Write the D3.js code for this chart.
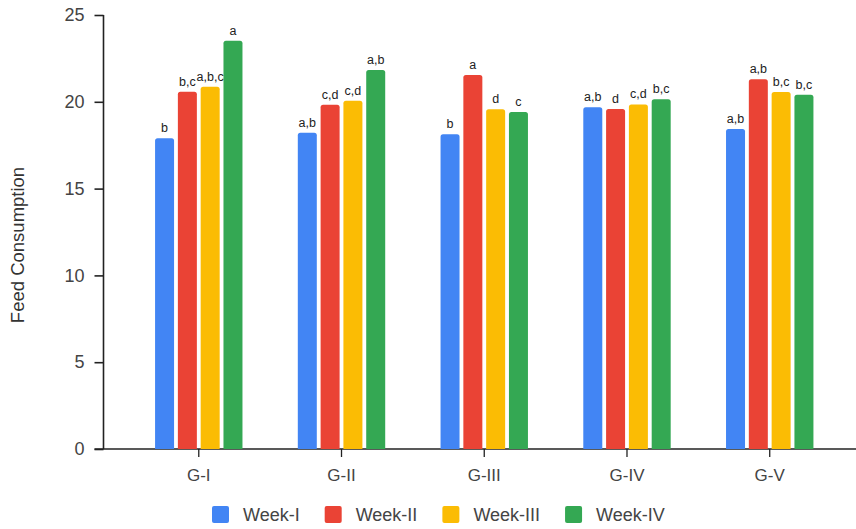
<!DOCTYPE html>
<html>
<head>
<meta charset="utf-8">
<script src="https://cdn.jsdelivr.net/npm/d3@7"></script>
<style>
  html, body { margin: 0; padding: 0; background: #fff; }
  svg { display: block; font-family: "Liberation Sans", Arial, sans-serif; }
</style>
</head>
<body>
<svg id="chart" width="856" height="529"></svg>
<script>
// ---- data ----
const groups = ["G-I", "G-II", "G-III", "G-IV", "G-V"];
const series = ["Week-I", "Week-II", "Week-III", "Week-IV"];
const weekI   = [17.9, 18.22, 18.13, 19.68, 18.43];
const weekII  = [20.58, 19.83, 21.54, 19.59, 21.3];
const weekIII = [20.87, 20.06, 19.57, 19.85, 20.56];
const weekIV  = [23.52, 21.83, 19.41, 20.14, 20.41];
const lettersI   = ["b", "a,b", "b", "a,b", "a,b"];
const lettersII  = ["b,c", "c,d", "a", "d", "a,b"];
const lettersIII = ["a,b,c", "c,d", "d", "c,d", "b,c"];
const lettersIV  = ["a", "a,b", "c", "b,c", "b,c"];
const yTicks = [0, 5, 10, 15, 20, 25];
const colors = ["#4285F4", "#EA4335", "#FBBC04", "#34A853"];

const values = [weekI, weekII, weekIII, weekIV];
const letters = [lettersI, lettersII, lettersIII, lettersIV];

const svg = d3.select("#chart");
const axisX = 103.5, zeroY = 449, topY = 15;

const y = d3.scaleLinear().domain([0, 25]).range([zeroY, topY]);
const x0 = d3.scaleBand().domain(groups).range([127.4, 841.1]).paddingInner(0).paddingOuter(0);
const x1 = d3.scaleBand().domain(series).range([-43.7, 43.7]).paddingInner(0.167).paddingOuter(0);

// y axis
const yAxis = svg.append("g").attr("transform", `translate(${axisX},0)`)
  .call(d3.axisLeft(y).tickValues(yTicks).tickSize(9).tickPadding(10).tickFormat(d3.format("d")));
yAxis.select(".domain").attr("stroke", "#222").attr("stroke-width", 1.6).attr("d", `M0,${zeroY}V${topY}`);
yAxis.selectAll(".tick line").attr("stroke", "#222").attr("stroke-width", 1.6);
yAxis.selectAll(".tick text").attr("fill", "#444").style("font-size", "18px");
yAxis.attr("font-family", null);

// x axis
const xAxis = svg.append("g").attr("transform", `translate(0,${zeroY})`)
  .call(d3.axisBottom(x0).tickSize(8).tickPadding(12));
xAxis.attr("font-family", null);
xAxis.select(".domain").attr("d", `M94.5,0H856`).attr("stroke", "#222").attr("stroke-width", 1.6);
xAxis.selectAll(".tick line").attr("stroke", "#222").attr("stroke-width", 1.3);
xAxis.selectAll(".tick text").attr("fill", "#444").style("font-size", "17px");

// y label
svg.append("text")
  .attr("transform", `translate(24,245) rotate(-90)`)
  .attr("text-anchor", "middle")
  .attr("fill", "#333")
  .style("font-size", "18.5px")
  .text("Feed Consumption");

// bars
function topRounded(x, yTop, w, h, r) {
  r = Math.min(r, h, w / 2);
  return `M${x},${yTop + h}V${yTop + r}Q${x},${yTop} ${x + r},${yTop}H${x + w - r}Q${x + w},${yTop} ${x + w},${yTop + r}V${yTop + h}Z`;
}

const data = [];
groups.forEach((g, gi) => {
  series.forEach((s, si) => {
    data.push({ g, s, si, v: values[si][gi], l: letters[si][gi] });
  });
});

const cx = g => x0(g) + x0.bandwidth() / 2;

svg.append("g").selectAll("path").data(data).join("path")
  .attr("d", d => topRounded(cx(d.g) + x1(d.s), y(d.v), x1.bandwidth(), zeroY - y(d.v), 2.5))
  .attr("fill", d => colors[d.si]);

svg.append("g").selectAll("text").data(data).join("text")
  .attr("x", d => cx(d.g) + x1(d.s) + x1.bandwidth() / 2)
  .attr("y", d => y(d.v) - 6)
  .attr("text-anchor", "middle")
  .attr("fill", "#222")
  .style("font-size", "12.5px")
  .text(d => d.l);

// legend
const legend = svg.append("g");
let lx = 212;
series.forEach((s, i) => {
  legend.append("rect").attr("x", lx).attr("y", 506).attr("width", 17).attr("height", 17)
    .attr("rx", 2).attr("fill", colors[i]);
  const t = legend.append("text").attr("x", lx + 31).attr("y", 521)
    .attr("fill", "#444").style("font-size", "18px").text(s);
  const w = t.node().getComputedTextLength();
  lx = lx + 31 + w + 25;
});
</script>
</body>
</html>
